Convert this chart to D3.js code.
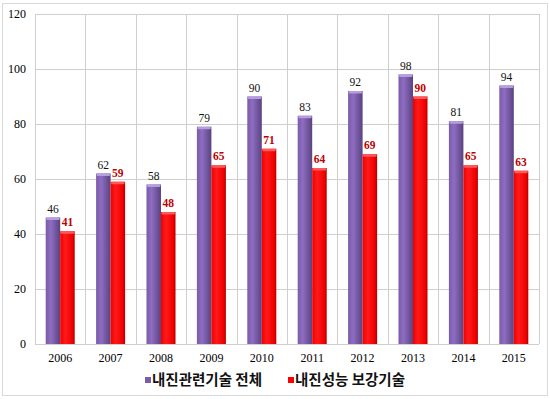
<!DOCTYPE html>
<html>
<head>
<meta charset="utf-8">
<script src="https://cdn.jsdelivr.net/npm/d3@7"></script>
<style>
  body { margin: 0; background: #fff; }
  svg { display: block; }
</style>
</head>
<body>
<svg width="550" height="399"></svg>
<script>
// values
var years = ["2006", "2007", "2008", "2009", "2010", "2011", "2012", "2013", "2014", "2015"];
var total = [46, 62, 58, 79, 90, 83, 92, 98, 81, 94];
var seismic = [41, 59, 48, 65, 71, 64, 69, 90, 65, 63];
var seriesNames = ["내진관련기술 전체", "내진성능 보강기술"];
var yTicks = [0, 20, 40, 60, 80, 100, 120];

var svg = d3.select("svg"),
    width = +svg.attr("width"),
    height = +svg.attr("height");

var margin = {top: 14, right: 11, bottom: 55, left: 35};
var plotW = width - margin.left - margin.right,
    plotH = height - margin.top - margin.bottom;

// outer frame
svg.append("rect")
    .attr("x", 2.5).attr("y", 3.5)
    .attr("width", 545).attr("height", 392)
    .attr("fill", "#fff")
    .attr("stroke", "#d9d9d9");

var defs = svg.append("defs");
function grad(id, stops) {
  var g = defs.append("linearGradient").attr("id", id)
      .attr("x1", "0%").attr("x2", "100%").attr("y1", "0%").attr("y2", "0%");
  stops.forEach(function(s) {
    g.append("stop").attr("offset", s[0]).attr("stop-color", s[1]);
  });
}
grad("gPurple", [["0%", "#7a5aa8"], ["35%", "#8e6dc2"], ["100%", "#5a4280"]]);
grad("gRed", [["0%", "#f00000"], ["35%", "#ff1a1a"], ["85%", "#ee0000"], ["100%", "#b00000"]]);

var g = svg.append("g").attr("transform", "translate(" + margin.left + "," + margin.top + ")");

var x = d3.scaleBand().domain(years).range([0, plotW]);
var y = d3.scaleLinear().domain([0, 120]).range([plotH, 0]);

// grid
g.selectAll(".hgrid").data(yTicks).enter().append("line")
    .attr("x1", 0).attr("x2", plotW)
    .attr("y1", function(d) { return Math.round(y(d)) + 0.5; })
    .attr("y2", function(d) { return Math.round(y(d)) + 0.5; })
    .attr("stroke", "#cfcfcf");
g.selectAll(".vgrid").data(years.concat(["end"])).enter().append("line")
    .attr("x1", function(d, i) { return Math.round(i * x.step()) + 0.5; })
    .attr("x2", function(d, i) { return Math.round(i * x.step()) + 0.5; })
    .attr("y1", 0).attr("y2", plotH)
    .attr("stroke", "#cfcfcf");

// y axis labels
g.selectAll(".ylab").data(yTicks).enter().append("text")
    .attr("x", -9)
    .attr("y", function(d) { return y(d); })
    .attr("dy", "0.35em")
    .attr("text-anchor", "end")
    .attr("font-family", "Liberation Serif, serif")
    .attr("font-size", 12)
    .text(function(d) { return d; });

// x axis labels
g.selectAll(".xlab").data(years).enter().append("text")
    .attr("x", function(d) { return x(d) + x.bandwidth() / 2; })
    .attr("y", plotH + 18)
    .attr("text-anchor", "middle")
    .attr("font-family", "Liberation Serif, serif")
    .attr("font-size", 12)
    .text(function(d) { return d; });

var barW = 14.5;
var series = [
  {vals: total, fill: "url(#gPurple)", cap: "#b59ee0", off: -barW, label: "#111", bold: false},
  {vals: seismic, fill: "url(#gRed)", cap: "#ff5a5a", off: 0, label: "#c00000", bold: true}
];

series.forEach(function(s) {
  var grp = g.append("g");
  grp.selectAll("rect.bar").data(years).enter().append("rect")
      .attr("class", "bar")
      .attr("x", function(d) { return x(d) + x.bandwidth() / 2 + s.off; })
      .attr("y", function(d, i) { return y(s.vals[i]); })
      .attr("width", barW)
      .attr("height", function(d, i) { return plotH - y(s.vals[i]); })
      .attr("fill", s.fill);
  grp.selectAll("rect.cap").data(years).enter().append("rect")
      .attr("class", "cap")
      .attr("x", function(d) { return x(d) + x.bandwidth() / 2 + s.off + 0.5; })
      .attr("y", function(d, i) { return y(s.vals[i]); })
      .attr("width", barW - 1)
      .attr("height", 2.5)
      .attr("rx", 1.2)
      .attr("fill", s.cap);
  grp.selectAll("text").data(years).enter().append("text")
      .attr("x", function(d) { return x(d) + x.bandwidth() / 2 + s.off + barW / 2; })
      .attr("y", function(d, i) { return y(s.vals[i]) - 5; })
      .attr("text-anchor", "middle")
      .attr("font-family", "Liberation Serif, serif")
      .attr("font-size", 11.5)
      .attr("font-weight", s.bold ? "bold" : "normal")
      .attr("fill", s.label)
      .text(function(d, i) { return s.vals[i]; });
});

// legend
var legend = svg.append("g").attr("transform", "translate(0,385)");
var legX = [145, 288];
var legCol = ["#7a5ca8", "#ff0000"];
seriesNames.forEach(function(n, i) {
  legend.append("rect")
      .attr("x", legX[i]).attr("y", -8)
      .attr("width", 6).attr("height", 6)
      .attr("fill", legCol[i]);
  legend.append("text")
      .attr("x", legX[i] + 7).attr("y", 0)
      .attr("font-family", "Noto Sans CJK KR, sans-serif")
      .attr("font-weight", "bold")
      .attr("font-size", 14.5)
      .attr("fill", "#111")
      .text(n);
});
</script>
</body>
</html>
